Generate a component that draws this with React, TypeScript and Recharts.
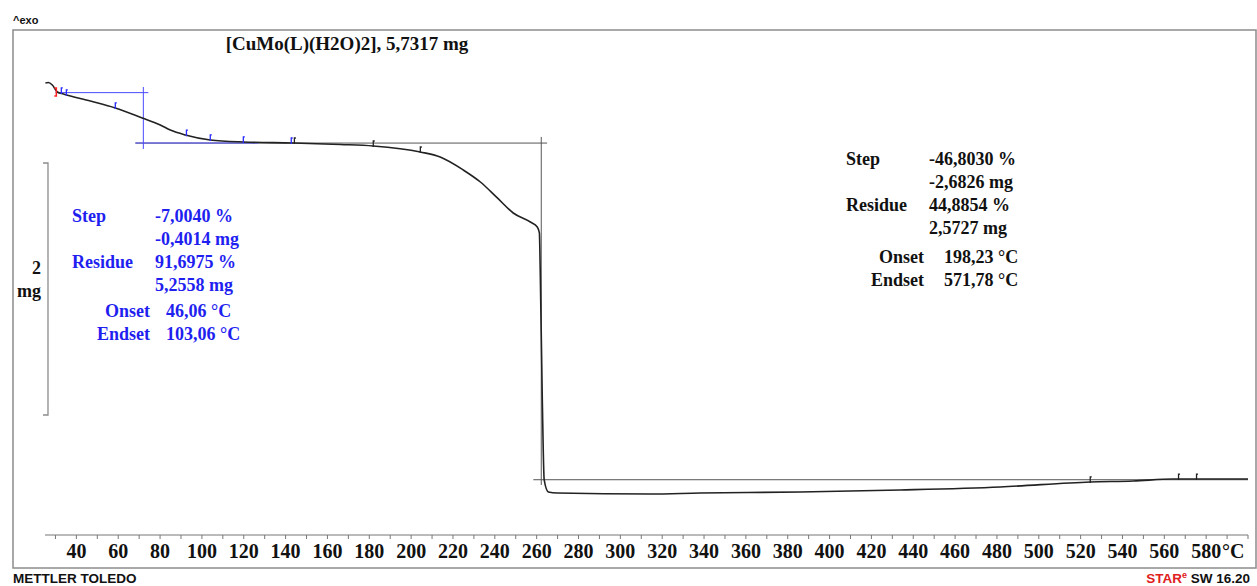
import React from 'react';
import { ComposedChart, Line, Scatter, XAxis, YAxis } from 'recharts';

// TGA curve: temperature (°C) and mass (mg)
const curveT = [25.2, 26.6, 28.5, 30.9, 33.8, 46.7, 58.6, 71.5, 80.1, 84.9, 92.1, 104.0, 119.8, 143.7, 166.2, 181.9, 204.4, 213.9, 224.9, 233.1, 241.2, 248.8, 257.0, 260.3, 261.3, 261.7, 262.7, 263.6, 265.6, 269.9, 314.3, 338.2, 386.0, 433.8, 481.6, 524.6, 545.1, 564.2, 581.9, 600.0];
const curveMg = [5.734, 5.738, 5.718, 5.662, 5.646, 5.590, 5.535, 5.455, 5.399, 5.359, 5.320, 5.280, 5.264, 5.256, 5.244, 5.232, 5.184, 5.144, 5.041, 4.945, 4.818, 4.698, 4.626, 4.587, 4.539, 4.244, 3.208, 2.571, 2.475, 2.467, 2.459, 2.467, 2.475, 2.491, 2.515, 2.555, 2.563, 2.578, 2.578, 2.578];

// evaluation markers on the curve
const blueMarkT = [32.8, 35.2, 58.6, 92.6, 104.0, 119.8, 142.7];
const blueMarkMg = [5.655, 5.640, 5.535, 5.318, 5.280, 5.264, 5.256];
const blackMarkT = [144.2, 181.9, 204.4, 524.6, 566.8, 575.4];
const blackMarkMg = [5.256, 5.232, 5.184, 2.555, 2.578, 2.578];
const redMarkT = [25.2, 30.9];
const redMarkMg = [5.726, 5.662];

// step evaluation construction lines [t1, m1, t2, m2]
const step1Lines = [
  [30.0, 5.6572, 74.4, 5.6572],
  [72.0, 5.702, 72.0, 5.208],
  [68.2, 5.2558, 127.0, 5.2558],
];
const step2Lines = [
  [68.2, 5.2553, 265.0, 5.2553],
  [262.2, 5.304, 262.2, 2.531],
  [258.4, 2.5727, 600.0, 2.5727],
];

const xTicks = [30, 40, 50, 60, 70, 80, 90, 100, 110, 120, 130, 140, 150, 160, 170, 180, 190, 200, 210, 220, 230, 240, 250, 260, 270, 280, 290, 300, 310, 320, 330, 340, 350, 360, 370, 380, 390, 400, 410, 420, 430, 440, 450, 460, 470, 480, 490, 500, 510, 520, 530, 540, 550, 560, 570, 580, 590, 600];

const step1Text = [
  ['Step', '-7,0040 %'],
  ['', '-0,4014 mg'],
  ['Residue', '91,6975 %'],
  ['', '5,2558 mg'],
];
const step1Temps = [['Onset', '46,06 °C'], ['Endset', '103,06 °C']];
const step2Text = [
  ['Step', '-46,8030 %'],
  ['', '-2,6826 mg'],
  ['Residue', '44,8854 %'],
  ['', '2,5727 mg'],
];
const step2Temps = [['Onset', '198,23 °C'], ['Endset', '571,78 °C']];

const curve = curveT.map((t, i) => ({ t, m: curveMg[i] }));
const toPts = (ts: number[], ms: number[]) => ts.map((t, i) => ({ t, m: ms[i] }));
const seg = (s: number[]) => [{ t: s[0], m: s[1] }, { t: s[2], m: s[3] }];

const SERIF = '"Liberation Serif", "Times New Roman", serif';
const SANS = '"Liberation Sans", Arial, sans-serif';
const BLUE = '#1f1ff0';
const BLUE_LINE = '#4a4aff';

const AxisTick = (props: any) => {
  const { x, y, payload } = props;
  const v = payload.value;
  if (v % 20 !== 0 || v > 580) return <g />;
  return (
    <text x={x} y={y} dy={17} textAnchor="middle" fontFamily={SERIF} fontWeight="bold" fontSize={20} fill="#111">
      {v}
    </text>
  );
};

const markShape = (color: string) => (props: any) => {
  const { cx, cy } = props;
  return (
    <g>
      <path d={`M${cx},${cy + 1} V${cy - 5} h1.5`} stroke={color} strokeWidth={1.3} fill="none" />
    </g>
  );
};

const redShape = (props: any) => {
  const { cx, cy, index } = props;
  const d = index === 0
    ? `M${cx - 1},${cy - 4} h-2 v8 h2`
    : `M${cx - 3},${cy - 4} h2 v8 h-2`;
  return <path d={d} stroke="#ff2020" strokeWidth={1.5} fill="none" />;
};

const TextBlock = ({ rows, temps, x1, x2, y0, dy, tEnd, tStart, ty0, color }: any) => (
  <g fontFamily={SERIF} fontWeight="bold" fontSize={18} fill={color}>
    {rows.map((r: string[], i: number) => (
      <g key={i}>
        {r[0] && <text x={x1} y={y0 + i * dy}>{r[0]}</text>}
        <text x={x2} y={y0 + i * dy}>{r[1]}</text>
      </g>
    ))}
    {temps.map((r: string[], i: number) => (
      <g key={'t' + i}>
        <text x={tEnd} y={ty0 + i * dy} textAnchor="end">{r[0]}</text>
        <text x={tStart} y={ty0 + i * dy}>{r[1]}</text>
      </g>
    ))}
  </g>
);

export default function App() {
  return (
    <div style={{ position: 'absolute', left: 0, top: 0, width: 1257, height: 586, background: '#fff' }}>
      <ComposedChart width={1257} height={586} margin={{ top: 30, right: 9, left: 45, bottom: 21 }}>
        <XAxis
          dataKey="t"
          type="number"
          domain={[25, 600]}
          allowDataOverflow
          ticks={xTicks}
          interval={0}
          height={30}
          tickSize={4}
          axisLine={{ stroke: '#777' }}
          tickLine={{ stroke: '#777' }}
          tick={<AxisTick />}
        />
        <YAxis hide type="number" domain={[2.1323, 6.1562]} allowDataOverflow />
        {step2Lines.map((s, i) => (
          <Line key={'s2' + i} data={seg(s)} dataKey="m" type="linear" stroke="#555" strokeWidth={1} dot={false} activeDot={false} isAnimationActive={false} />
        ))}
        {step1Lines.map((s, i) => (
          <Line key={'s1' + i} data={seg(s)} dataKey="m" type="linear" stroke={BLUE_LINE} strokeWidth={1} dot={false} activeDot={false} isAnimationActive={false} />
        ))}
        <Line data={curve} dataKey="m" type="monotone" stroke="#222" strokeWidth={1.6} dot={false} activeDot={false} isAnimationActive={false} />
        <Scatter data={toPts(blueMarkT, blueMarkMg)} dataKey="m" shape={markShape('#2a2aff')} isAnimationActive={false} />
        <Scatter data={toPts(blackMarkT, blackMarkMg)} dataKey="m" shape={markShape('#222')} isAnimationActive={false} />
        <Scatter data={toPts(redMarkT, redMarkMg)} dataKey="m" shape={redShape} isAnimationActive={false} />
      </ComposedChart>
      <svg width={1257} height={586} style={{ position: 'absolute', left: 0, top: 0, pointerEvents: 'none' }}>
        <rect x={13} y={30} width={1243} height={538} fill="none" stroke="#8c8c8c" strokeWidth={1.5} />
        <text x={13} y={24} fontFamily={SANS} fontWeight="bold" fontSize={11} fill="#111">^exo</text>
        <text x={347} y={50} textAnchor="middle" fontFamily={SERIF} fontWeight="bold" fontSize={19} fill="#111">
          [CuMo(L)(H2O)2], 5,7317 mg
        </text>
        <path d="M43,163 H48 V415 H43" stroke="#8c8c8c" strokeWidth={1.3} fill="none" />
        <text x={41} y={274} textAnchor="end" fontFamily={SERIF} fontWeight="bold" fontSize={18} fill="#111">2</text>
        <text x={41} y={297} textAnchor="end" fontFamily={SERIF} fontWeight="bold" fontSize={18} fill="#111">mg</text>
        <TextBlock rows={step1Text} temps={step1Temps} x1={72} x2={155} y0={222} dy={23} tEnd={150} tStart={166} ty0={317} color={BLUE} />
        <TextBlock rows={step2Text} temps={step2Temps} x1={846} x2={929} y0={165} dy={23} tEnd={924} tStart={944} ty0={263} color="#111" />
        <text x={1222} y={558} fontFamily={SERIF} fontWeight="bold" fontSize={20} fill="#111">°C</text>
        <text x={13} y={583} fontFamily={SANS} fontWeight="bold" fontSize={13.5} fill="#111">METTLER TOLEDO</text>
        <text x={1250} y={583} textAnchor="end" fontFamily={SANS} fontWeight="bold" fontSize={13.5} fill="#111">
          <tspan fill="#e02020">STAR</tspan>
          <tspan fill="#e02020" fontSize={9} dy={-5}>e</tspan>
          <tspan dy={5}> SW 16.20</tspan>
        </text>
      </svg>
    </div>
  );
}
